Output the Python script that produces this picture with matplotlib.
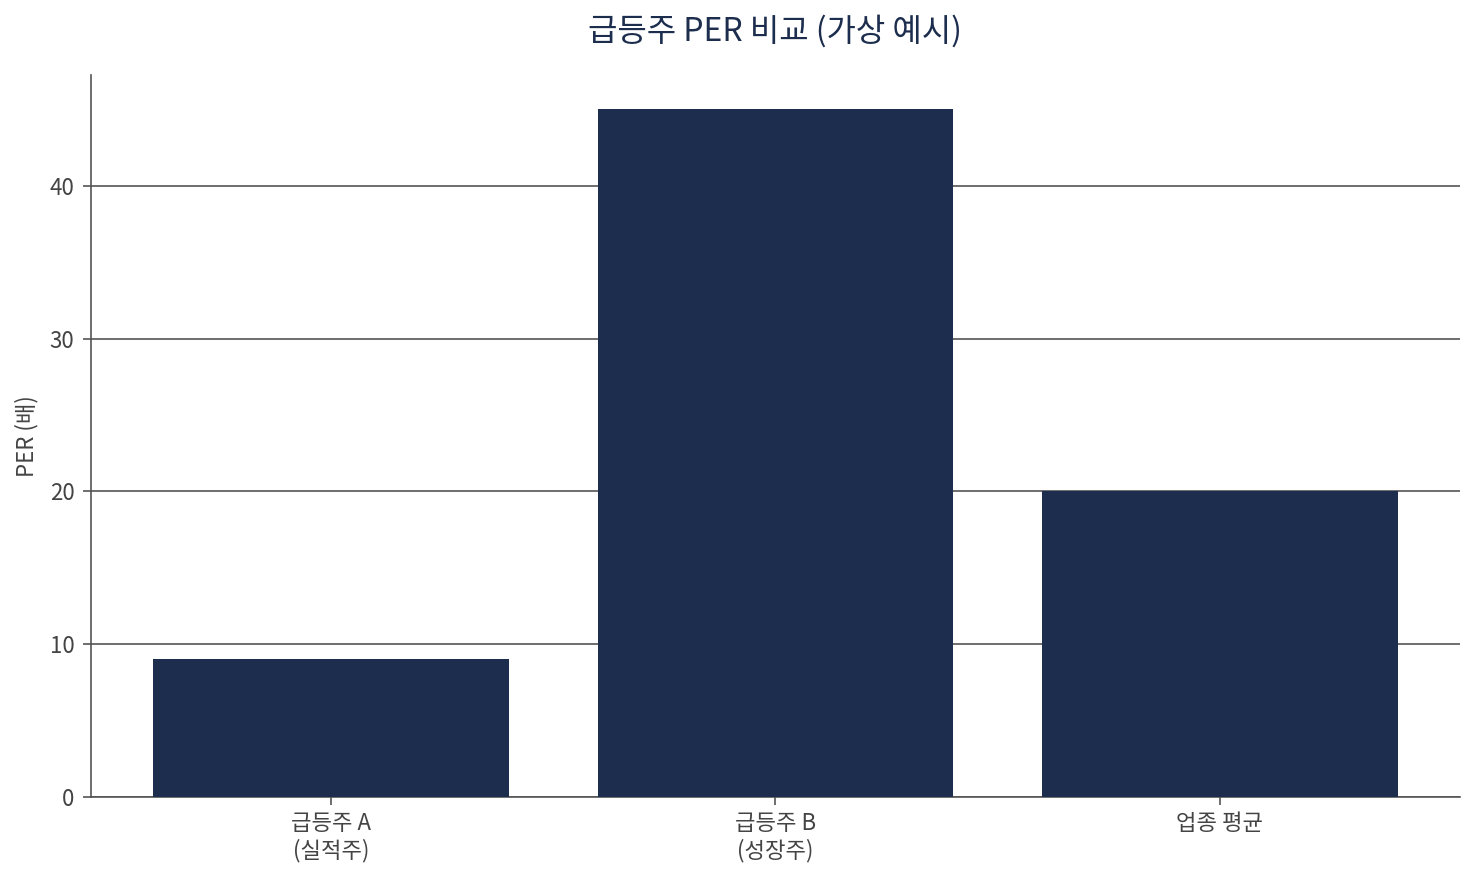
import matplotlib
matplotlib.use('Agg')
from matplotlib import pyplot as plt

plt.rcParams['font.family'] = ['Noto Sans CJK KR', 'DejaVu Sans']

categories = ['급등주 A\n(실적주)', '급등주 B\n(성장주)', '업종 평균']
per_values = [9, 45, 20]

navy = '#1c2d4d'
gray = '#555555'

fig = plt.figure(figsize=(14.76, 8.76), dpi=100)
ax = fig.add_axes([0.0617, 0.0902, 0.9273, 0.8242])

ax.bar(categories, per_values, width=0.8, color=navy, zorder=3)

ax.set_axisbelow(True)
ax.yaxis.grid(True, color=gray, linewidth=1.2)
ax.set_yticks([0, 10, 20, 30, 40])

for side in ['top', 'right']:
    ax.spines[side].set_visible(False)
for side in ['left', 'bottom']:
    ax.spines[side].set_color(gray)
    ax.spines[side].set_linewidth(1.2)

ax.tick_params(colors=gray, labelcolor='#444444', labelsize=16, length=6, width=1.2)
ax.tick_params(axis='x', pad=5)
ax.tick_params(axis='y', pad=6)
ax.set_ylabel('PER (배)', fontsize=16, color='#444444', labelpad=8)
ax.set_title('급등주 PER 비교 (가상 예시)', fontsize=23, color=navy, pad=25)

fig.savefig('out.png', dpi=100)
